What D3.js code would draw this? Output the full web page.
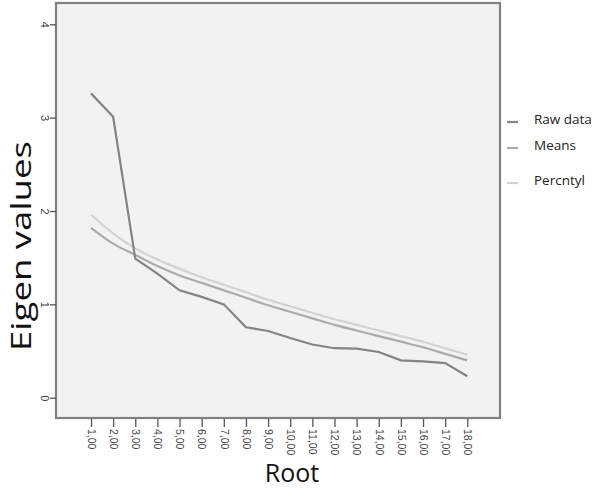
<!DOCTYPE html>
<html><head><meta charset="utf-8">
<script src="https://cdn.jsdelivr.net/npm/d3@7"></script>
<style>html,body{margin:0;padding:0;background:#fff;}svg{display:block;font-family:"Open Sans","Noto Sans",sans-serif;}</style>
</head><body><svg id="c" width="600" height="490"></svg>
<script>
const roots = [1,2,3,4,5,6,7,8,9,10,11,12,13,14,15,16,17,18];
const rootLabels = ["1,00","2,00","3,00","4,00","5,00","6,00","7,00","8,00","9,00","10,00","11,00","12,00","13,00","14,00","15,00","16,00","17,00","18,00"];
const rawData = [3.26,3.01,1.49,1.33,1.15,1.08,1.00,0.755,0.715,0.64,0.57,0.53,0.525,0.49,0.40,0.39,0.37,0.23];
const means = [1.82,1.65,1.53,1.41,1.31,1.23,1.15,1.07,0.99,0.92,0.85,0.78,0.72,0.66,0.60,0.54,0.47,0.40];
const percntyl = [1.96,1.76,1.60,1.48,1.38,1.29,1.21,1.13,1.05,0.98,0.91,0.84,0.78,0.72,0.66,0.60,0.53,0.46];
const yTicks = [0,1,2,3,4];
const seriesNames = ["Raw data","Means","Percntyl"];
const seriesColors = ["#848484","#ababab","#d2d2d2"];

const svg = d3.select("#c");
const frame = {l:56, t:3, r:500, b:418};
const x = d3.scaleLinear().domain([1,18]).range([91,467.3]);
const y = d3.scaleLinear().domain([0,4]).range([397.7,24.3]);

svg.append("rect").attr("x",frame.l).attr("y",frame.t)
  .attr("width",frame.r-frame.l).attr("height",frame.b-frame.t)
  .attr("fill","#f2f2f2").attr("stroke","#808080").attr("stroke-width",2.2);

// y axis
const ya = svg.append("g").attr("transform",`translate(${frame.l},0)`)
  .call(d3.axisLeft(y).tickValues(yTicks).tickSize(6).tickPadding(3).tickFormat(d3.format("d")));
ya.select(".domain").remove();
ya.selectAll("line").attr("stroke","#555").attr("stroke-width",1.3);
ya.selectAll("text").attr("fill","#444").attr("font-size",11)
  .attr("text-anchor","middle").attr("x",-11).attr("dy","0.35em")
  .attr("transform","rotate(90,-11,0)");

// x axis
const xa = svg.append("g").attr("transform",`translate(0,${frame.b+1})`)
  .call(d3.axisBottom(x).tickValues(roots).tickSize(8).tickFormat((d,i)=>rootLabels[i]));
xa.select(".domain").remove();
xa.selectAll("line").attr("stroke","#555").attr("stroke-width",1.3);
xa.selectAll("text").attr("fill","#444").attr("font-size",10.5)
  .attr("text-anchor","start").attr("x",0).attr("y",0).attr("dy","0.35em")
  .attr("transform","translate(0,10) rotate(90)");

// lines
const line = d3.line().x((d,i)=>x(roots[i])).y(d=>y(d));
const lineSmooth = d3.line().x((d,i)=>x(roots[i])).y(d=>y(d)).curve(d3.curveMonotoneX);
const data = [rawData, means, percntyl];
[2,1,0].forEach(k=>{
  svg.append("path").datum(data[k]).attr("fill","none")
    .attr("stroke",seriesColors[k]).attr("stroke-width",2.2)
    .attr("d", k===0 ? line : lineSmooth);
});

// legend
const legY = [122,148,183];
seriesNames.forEach((n,i)=>{
  svg.append("line").attr("x1",507).attr("x2",518).attr("y1",legY[i]).attr("y2",legY[i])
    .attr("stroke",seriesColors[i]).attr("stroke-width",2.2);
  svg.append("text").attr("x",534).attr("y",legY[i]).attr("dy","0.15em")
    .attr("font-size",13.5).attr("fill","#222").text(n);
});

// titles
svg.append("text").attr("transform","translate(31,246) rotate(-90)")
  .attr("text-anchor","middle").attr("font-size",28).attr("fill","#111")
  .attr("textLength",210).attr("lengthAdjust","spacingAndGlyphs").text("Eigen values");
svg.append("text").attr("x",292).attr("y",482).attr("text-anchor","middle")
  .attr("font-size",25).attr("fill","#111").text("Root");
</script></body></html>
